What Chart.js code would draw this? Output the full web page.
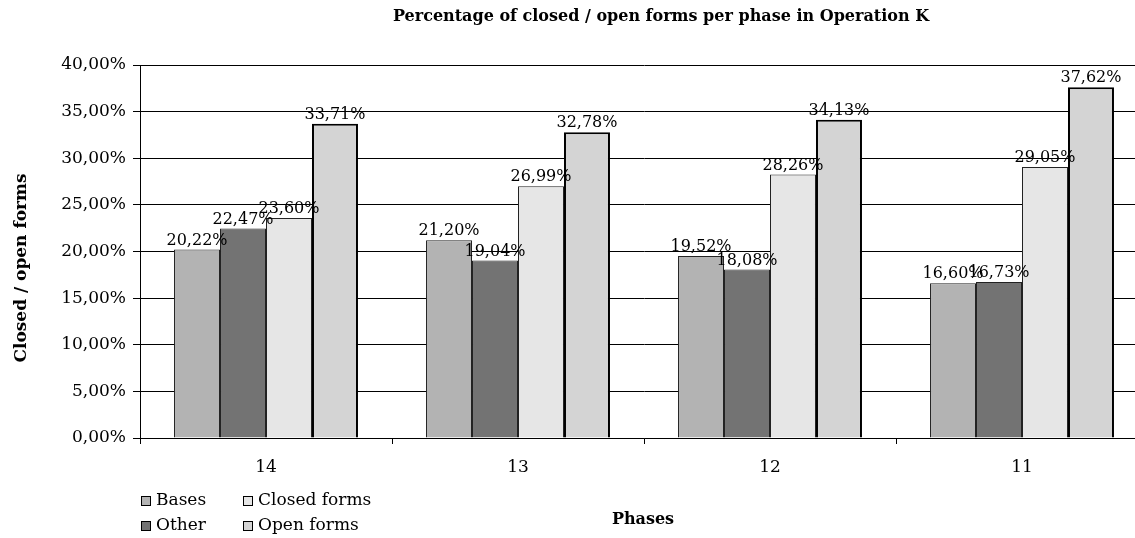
<!DOCTYPE html>
<html>
<head>
<meta charset="utf-8">
<script src="https://cdn.jsdelivr.net/npm/chart.js@4.4.0/dist/chart.umd.min.js"></script>
<style>
  html, body { margin: 0; padding: 0; background: #fff; overflow: hidden; }
  #wrap { width: 1160px; height: 538px; position: relative; }
</style>
</head>
<body>
<div id="wrap"><canvas id="chart"></canvas></div>
<script>
// Data
const phases = ['14', '13', '12', '11'];
const bases = [20.22, 21.20, 19.52, 16.60];
const other = [22.47, 19.04, 18.08, 16.73];
const closedForms = [23.60, 26.99, 28.26, 29.05];
const openForms = [33.71, 32.78, 34.13, 37.62];
const seriesNames = ['Bases', 'Other', 'Closed forms', 'Open forms'];

const chartTitle = 'Percentage of closed / open forms per phase in Operation K';
const xTitle = 'Phases';
const yTitle = 'Closed / open forms';

const FONT = '"DejaVu Serif", "Liberation Serif", serif';

const pct = v => v.toFixed(2).replace('.', ',') + '%';

// Value labels above each bar
const barLabels = {
    id: 'barLabels',
    afterDatasetsDraw(chart) {
        const ctx = chart.ctx;
        ctx.save();
        ctx.font = '16px ' + FONT;
        ctx.fillStyle = '#000';
        ctx.textAlign = 'center';
        ctx.textBaseline = 'bottom';
        chart.data.datasets.forEach((ds, i) => {
            chart.getDatasetMeta(i).data.forEach((bar, j) => {
                ctx.fillText(pct(ds.data[j]), bar.x, bar.y - 1);
            });
        });
        ctx.restore();
    }
};

// Titles and 2x2 legend at bottom left
const extras = {
    id: 'extras',
    afterDraw(chart) {
        const ctx = chart.ctx;
        ctx.save();
        ctx.fillStyle = '#000';
        ctx.textAlign = 'center';
        ctx.textBaseline = 'middle';

        ctx.font = 'bold 16px ' + FONT;
        ctx.fillText(chartTitle, 661, 17);

        ctx.font = 'bold 16px ' + FONT;
        ctx.fillText(xTitle, 643, 520);

        ctx.save();
        ctx.font = 'bold 17px ' + FONT;
        ctx.translate(22, 268);
        ctx.rotate(-Math.PI / 2);
        ctx.fillText(yTitle, 0, 0);
        ctx.restore();

        // legend
        ctx.font = '17px ' + FONT;
        ctx.textAlign = 'left';
        const cols = [141, 243];
        const rows = [501, 526];
        chart.data.datasets.forEach((ds, i) => {
            const x = cols[Math.floor(i / 2)];
            const y = rows[i % 2];
            ctx.fillStyle = ds.backgroundColor;
            ctx.fillRect(x, y - 5, 9, 9);
            ctx.strokeStyle = '#000';
            ctx.lineWidth = 1;
            ctx.strokeRect(x + 0.5, y - 4.5, 9, 9);
            ctx.fillStyle = '#000';
            ctx.fillText(ds.label, x + 15, y);
        });
        ctx.restore();
    }
};

new Chart(document.getElementById('chart'), {
    type: 'bar',
    data: {
        labels: phases,
        datasets: [
            { label: seriesNames[0], data: bases, backgroundColor: '#b3b3b3', borderColor: '#222', borderWidth: 1 },
            { label: seriesNames[1], data: other, backgroundColor: '#737373', borderColor: '#222', borderWidth: 1 },
            { label: seriesNames[2], data: closedForms, backgroundColor: '#e6e6e6', borderColor: '#222', borderWidth: 1 },
            { label: seriesNames[3], data: openForms, backgroundColor: '#d4d4d4', borderColor: '#000', borderWidth: 2 }
        ]
    },
    options: {
        responsive: true,
        maintainAspectRatio: false,
        animation: false,
        layout: { padding: { top: 65, right: 12, left: 0, bottom: 0 } },
        datasets: { bar: { categoryPercentage: 0.73, barPercentage: 1 } },
        plugins: {
            legend: { display: false },
            title: { display: false },
            tooltip: { enabled: false }
        },
        scales: {
            x: {
                afterFit(scale) { scale.height = 100; },
                grid: { drawOnChartArea: false, color: '#000', tickLength: 6, offset: true },
                border: { color: '#000', width: 1 },
                ticks: { color: '#000', font: { family: FONT, size: 17 }, padding: 13 }
            },
            y: {
                min: 0,
                max: 40,
                afterFit(scale) { scale.width = 140; },
                grid: { color: '#000', lineWidth: 1, tickLength: 7 },
                border: { color: '#000', width: 1 },
                ticks: {
                    stepSize: 5,
                    color: '#000',
                    padding: 7,
                    font: { family: FONT, size: 17 },
                    callback: v => pct(v)
                }
            }
        }
    },
    plugins: [barLabels, extras]
});
</script>
</body>
</html>
